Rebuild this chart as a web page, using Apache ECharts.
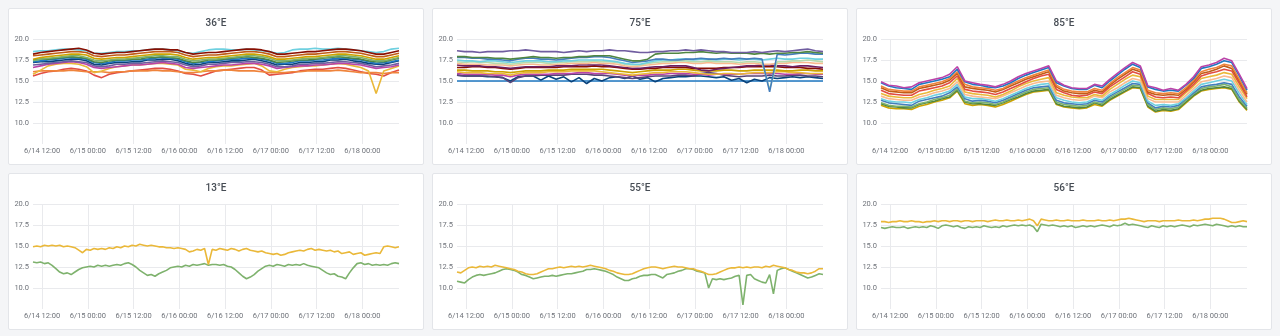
<!DOCTYPE html>
<html>
<head>
<meta charset="utf-8">
<script src="https://cdn.jsdelivr.net/npm/echarts@6/dist/echarts.min.js"></script>
<style>
  html, body { margin: 0; padding: 0; background: #f4f5f7; width: 1280px; height: 336px; overflow: hidden; }
  .panel { position: absolute; width: 416px; height: 157px; background: #fff; border: 1px solid #e3e5e9; border-radius: 2px; box-sizing: border-box; }
  .panel > div { width: 100%; height: 100%; }
</style>
</head>
<body>
<div class="panel" style="left:8px;top:8px"><div id="p0"></div></div>
<div class="panel" style="left:432px;top:8px"><div id="p1"></div></div>
<div class="panel" style="left:856px;top:8px"><div id="p2"></div></div>
<div class="panel" style="left:8px;top:173px"><div id="p3"></div></div>
<div class="panel" style="left:432px;top:173px"><div id="p4"></div></div>
<div class="panel" style="left:856px;top:173px"><div id="p5"></div></div>
<script>
// Sensor temperatures over 4 days. The x axis is in minutes since 6/14 00:00;
// the window opens at 6/14 09:36 (576 min). Top row: one sample every 2 hours;
// bottom row: one sample every hour.
const X_START = 576;            // 6/14 09:36
const X_SPAN = 96 * 60;         // 4 days
const X_STEP = 144;             // axis step in minutes (five steps per 12 h)
const Y_TICKS = [10, 12.5, 15, 17.5, 20];

// ---- 36°E (2 h step) ----
const e36_cyan = [18.5,18.6,18.6,18.7,18.8,18.8,18.7,18.6,18.3,18.3,18.4,18.5,18.5,18.6,18.6,18.7,18.8,18.8,18.7,18.6,18.4,18.3,18.5,18.7,18.8,18.8,18.7,18.7,18.8,18.7,18.6,18.5,18.3,18.4,18.7,18.8,18.8,18.9,18.8,18.8,18.9,18.8,18.7,18.6,18.5,18.4,18.5,18.8,18.9];
const e36_darkred = [18.2,18.4,18.5,18.6,18.7,18.8,18.9,18.7,18.3,18.2,18.3,18.4,18.4,18.5,18.6,18.7,18.8,18.8,18.7,18.7,18.4,18.2,18.3,18.4,18.4,18.5,18.6,18.7,18.8,18.8,18.7,18.5,18.2,18.2,18.3,18.4,18.5,18.5,18.6,18.7,18.8,18.8,18.7,18.6,18.4,18.2,18.2,18.4,18.6];
const e36_rust = [18.0,18.1,18.2,18.3,18.4,18.5,18.5,18.4,18.0,17.9,18.0,18.1,18.1,18.2,18.3,18.4,18.5,18.5,18.5,18.4,18.1,17.9,18.0,18.1,18.1,18.2,18.3,18.4,18.5,18.5,18.4,18.2,17.9,17.9,18.0,18.1,18.2,18.2,18.3,18.4,18.5,18.5,18.4,18.3,18.1,17.9,17.9,18.1,18.3];
const e36_olive = [17.6,17.8,17.9,18.0,18.1,18.2,18.2,18.1,17.7,17.6,17.7,17.8,17.8,17.9,18.0,18.1,18.2,18.2,18.2,18.1,17.8,17.6,17.7,17.8,17.8,17.9,18.0,18.1,18.2,18.2,18.1,17.9,17.6,17.6,17.7,17.8,17.9,17.9,18.0,18.1,18.2,18.2,18.1,18.0,17.8,17.6,17.6,17.8,18.0];
const e36_green = [17.4,17.6,17.7,17.8,17.9,18.0,18.0,17.8,17.5,17.4,17.5,17.6,17.6,17.7,17.8,17.9,18.0,18.0,17.9,17.9,17.6,17.4,17.5,17.6,17.6,17.7,17.8,17.9,18.0,18.0,17.9,17.7,17.4,17.4,17.5,17.6,17.7,17.7,17.8,17.9,18.0,18.0,17.9,17.8,17.6,17.4,17.4,17.6,17.8];
const e36_darkgreen = [17.5,17.6,17.6,17.7,17.8,17.9,17.8,17.7,17.3,17.2,17.4,17.5,17.5,17.6,17.6,17.8,17.8,17.9,17.8,17.7,17.4,17.2,17.3,17.5,17.5,17.6,17.7,17.8,17.9,17.8,17.7,17.5,17.2,17.3,17.4,17.5,17.5,17.6,17.7,17.8,17.9,17.8,17.7,17.6,17.4,17.3,17.3,17.5,17.7];
const e36_blue = [17.3,17.4,17.5,17.6,17.7,17.8,17.7,17.6,17.2,17.1,17.2,17.4,17.4,17.5,17.5,17.6,17.7,17.8,17.7,17.6,17.3,17.1,17.2,17.3,17.4,17.5,17.6,17.6,17.7,17.7,17.6,17.4,17.1,17.1,17.2,17.4,17.4,17.5,17.5,17.6,17.7,17.7,17.6,17.5,17.3,17.1,17.2,17.3,17.5];
const e36_navy = [17.2,17.3,17.3,17.4,17.5,17.6,17.6,17.4,17.0,16.9,17.1,17.2,17.2,17.3,17.3,17.5,17.5,17.6,17.6,17.4,17.1,16.9,17.0,17.2,17.2,17.3,17.4,17.4,17.5,17.6,17.4,17.2,16.9,17.0,17.0,17.2,17.2,17.3,17.3,17.5,17.5,17.6,17.4,17.3,17.1,17.0,17.0,17.2,17.4];
const e36_violet = [16.9,17.0,17.1,17.2,17.3,17.4,17.3,17.2,16.8,16.7,16.8,17.0,17.0,17.1,17.1,17.2,17.3,17.4,17.3,17.2,16.9,16.7,16.8,17.0,17.0,17.1,17.2,17.2,17.3,17.3,17.2,17.0,16.7,16.7,16.8,17.0,17.0,17.1,17.1,17.2,17.3,17.3,17.2,17.1,16.9,16.7,16.8,16.9,17.1];
const e36_magenta = [16.6,16.8,17.0,17.1,17.2,17.3,17.2,17.0,16.6,16.5,16.6,16.7,16.8,16.9,16.9,17.0,17.1,17.2,17.1,17.0,16.6,16.5,16.6,16.7,16.8,16.9,16.9,17.0,17.1,17.1,17.0,16.8,16.5,16.6,16.7,16.8,16.8,16.9,16.9,17.0,17.1,17.1,17.0,16.9,16.7,16.5,16.6,16.7,16.9];
const e36_yellow = [15.8,16.3,16.8,17.0,17.1,17.1,17.0,16.7,16.0,16.2,16.5,16.7,16.8,16.9,16.9,17.0,17.1,17.1,17.0,16.9,16.4,16.3,16.1,16.5,16.7,16.8,16.8,16.9,17.0,17.1,16.8,16.2,16.1,16.4,16.6,16.7,16.8,16.8,16.9,17.0,17.1,17.0,16.8,16.6,16.2,13.5,16.2,16.5,16.8];
const e36_red = [15.6,15.9,16.1,16.2,16.4,16.5,16.4,16.2,15.7,15.4,15.8,16.0,16.1,16.2,16.3,16.4,16.5,16.5,16.4,16.2,15.9,15.8,15.6,15.9,16.2,16.3,16.4,16.5,16.6,16.6,16.3,15.7,15.8,15.9,16.0,16.2,16.3,16.4,16.4,16.5,16.6,16.5,16.3,16.1,15.9,15.8,15.6,16.0,16.3];
const e36_orange = [16.1,16.2,16.2,16.2,16.2,16.3,16.2,16.1,16.1,16.1,16.0,16.1,16.1,16.2,16.2,16.2,16.3,16.2,16.2,16.1,16.0,16.0,16.1,16.2,16.2,16.3,16.3,16.2,16.2,16.2,16.1,16.0,16.0,16.0,16.1,16.1,16.2,16.2,16.2,16.2,16.3,16.2,16.1,16.0,16.0,16.0,15.9,16.0,16.0];

// ---- 75°E (2 h step) ----
const e75_violet = [18.6,18.5,18.5,18.4,18.5,18.5,18.5,18.6,18.6,18.7,18.6,18.5,18.5,18.5,18.4,18.5,18.6,18.5,18.6,18.6,18.7,18.6,18.6,18.5,18.4,18.4,18.5,18.5,18.6,18.6,18.7,18.6,18.7,18.6,18.5,18.5,18.4,18.4,18.4,18.5,18.4,18.5,18.6,18.5,18.6,18.7,18.8,18.6,18.5];
const e75_darkgreen = [17.9,17.9,17.8,17.8,17.8,17.7,17.7,17.6,17.7,17.8,17.9,17.8,17.8,17.7,17.8,17.8,17.9,17.9,18.0,18.0,18.0,17.8,17.6,17.4,17.4,17.6,18.2,18.3,18.3,18.3,18.4,18.4,18.5,18.4,18.3,18.4,18.3,18.3,18.3,18.2,18.3,18.2,18.3,18.3,18.4,18.4,18.5,18.4,18.3];
const e75_blue = [17.8,17.8,17.7,17.7,17.6,17.6,17.5,17.4,17.6,17.7,17.7,17.6,17.6,17.5,17.6,17.7,17.8,17.8,17.9,17.9,17.8,17.6,17.4,17.2,17.3,17.4,17.6,17.6,17.5,17.5,17.6,17.6,17.7,17.6,17.6,17.7,17.6,17.7,17.6,17.7,17.6,13.7,18.2,18.1,18.2,18.3,18.3,18.2,18.2];
const e75_cyan = [17.5,17.4,17.4,17.3,17.4,17.4,17.3,17.2,17.3,17.4,17.4,17.4,17.3,17.3,17.4,17.4,17.5,17.5,17.5,17.5,17.4,17.3,17.1,17.0,17.0,17.2,17.4,17.5,17.5,17.6,17.6,17.5,17.6,17.6,17.5,17.6,17.6,17.5,17.6,17.6,17.5,17.6,17.7,17.6,17.6,17.7,17.7,17.6,17.6];
const e75_lightgreen = [17.3,17.2,17.3,17.2,17.2,17.1,17.1,17.0,17.1,17.2,17.2,17.2,17.1,17.2,17.2,17.3,17.3,17.3,17.4,17.3,17.3,17.2,17.0,16.9,16.9,17.1,17.2,17.3,17.3,17.4,17.4,17.3,17.3,17.4,17.3,17.3,17.3,17.2,17.3,17.3,17.2,14.0,17.3,17.3,17.4,17.4,17.5,17.4,17.3];
const e75_orange = [17.1,17.0,17.0,17.0,16.9,16.9,16.9,16.8,16.9,17.0,17.0,16.9,16.9,17.0,17.0,17.1,17.1,17.1,17.2,17.1,17.1,17.0,16.8,16.7,16.8,16.9,17.0,17.1,17.1,17.2,17.2,17.1,17.1,17.2,17.1,17.1,17.1,17.0,17.1,17.1,17.0,17.0,17.1,17.1,17.2,17.2,17.2,17.1,17.1];
const e75_plum = [16.9,16.8,16.8,16.8,16.7,16.7,16.6,16.5,16.6,16.7,16.7,16.7,16.7,16.8,16.8,16.8,16.9,16.9,16.9,16.9,16.8,16.7,16.6,16.5,16.5,16.6,16.7,16.7,16.8,16.8,16.8,16.6,16.3,16.2,16.4,16.5,16.6,16.7,16.8,16.8,16.9,16.9,16.8,16.8,16.7,16.8,16.8,16.7,16.6];
const e75_darkred = [16.6,16.6,16.7,16.7,16.6,16.6,16.5,16.4,16.5,16.6,16.6,16.6,16.6,16.6,16.7,16.7,16.7,16.7,16.8,16.7,16.7,16.6,16.5,16.4,16.4,16.5,16.5,16.6,16.6,16.6,16.6,16.5,16.5,16.5,16.5,16.6,16.6,16.6,16.7,16.7,16.7,16.7,16.7,16.6,16.6,16.6,16.5,16.5,16.4];
const e75_olive = [16.3,16.3,16.2,16.2,16.2,16.1,16.1,16.0,16.1,16.2,16.2,16.2,16.3,16.3,16.3,16.4,16.4,16.4,16.4,16.4,16.3,16.2,16.1,16.0,16.1,16.2,16.3,16.3,16.3,16.4,16.4,16.3,16.2,16.2,16.2,16.3,16.3,16.2,16.2,16.3,16.3,16.3,16.3,16.2,16.2,16.3,16.3,16.2,16.2];
const e75_yellow = [16.1,16.0,16.0,16.0,15.9,15.9,15.9,15.7,15.9,16.0,16.0,16.0,16.1,16.1,16.1,16.2,16.2,16.2,16.2,16.1,16.0,15.9,15.8,15.7,15.8,15.9,16.0,16.0,16.1,16.1,16.1,16.0,15.9,15.8,15.8,15.9,15.9,15.8,15.9,16.0,16.0,16.0,16.1,16.1,16.0,16.0,15.9,15.9,15.9];
const e75_magenta = [15.9,15.8,15.8,15.8,15.8,15.7,15.7,15.5,15.7,15.8,15.8,15.8,15.8,15.9,15.9,15.9,16.0,16.0,15.9,15.9,15.9,15.8,15.7,15.6,15.7,15.7,15.8,15.8,15.9,15.9,15.9,15.8,15.8,15.7,15.8,15.8,15.8,15.8,15.9,15.9,15.9,15.9,15.9,15.8,15.8,15.9,15.9,15.8,15.8];
const e75_purple = [15.7,15.6,15.6,15.6,15.6,15.5,15.4,14.8,15.4,15.6,15.6,15.7,15.7,15.7,15.7,15.8,15.8,15.8,15.7,15.7,15.6,15.5,15.4,15.3,15.4,15.5,15.6,15.6,15.6,15.7,15.7,15.6,15.9,16.0,15.9,15.7,15.6,15.5,15.6,15.6,15.6,15.7,15.6,15.6,15.7,15.7,15.6,15.6,15.5];
const e75_navy = [15.7,15.6,15.6,15.6,15.5,15.5,15.4,15.0,15.5,15.6,15.6,15.1,15.6,15.2,15.5,14.9,15.4,14.7,15.3,15.0,15.4,15.5,15.3,15.6,15.2,15.4,14.9,15.3,15.4,15.5,15.5,15.6,15.6,15.5,15.4,15.5,15.1,15.3,14.8,15.2,15.0,15.4,15.3,15.4,15.5,15.4,15.5,15.4,15.3];
const e75_base = [15.0,15.0,15.0,15.0,15.0,15.0,15.0,15.0,15.0,15.0,15.0,15.0,15.0,15.0,15.0,15.0,15.0,15.0,15.0,15.0,15.0,15.0,15.0,15.0,15.0,15.0,15.0,15.0,15.0,15.0,15.0,15.0,15.0,15.0,15.0,15.0,15.0,15.0,15.0,15.0,15.0,15.0,15.0,15.0,15.0,15.0,15.0,15.0,15.0];

// ---- 85°E (2 h step) ----
const e85_magenta = [14.9,14.5,14.4,14.2,14.3,14.8,15.0,15.2,15.4,15.8,16.7,15.0,14.8,14.6,14.5,14.3,14.6,15.0,15.5,15.9,16.2,16.5,16.8,15.0,14.5,14.2,14.1,14.1,14.6,14.4,15.2,15.9,16.6,17.2,16.8,14.4,14.2,13.9,14.1,13.9,14.6,15.5,16.7,16.9,17.2,17.7,17.4,15.8,14.1];
const e85_blue = [14.8,14.4,14.2,14.1,14.0,14.6,14.8,15.0,15.2,15.5,16.4,14.9,14.6,14.5,14.3,14.2,14.4,14.8,15.3,15.7,16.0,16.3,16.6,14.8,14.4,14.1,14.0,14.0,14.5,14.2,15.0,15.7,16.4,17.0,16.6,14.3,14.0,13.8,13.9,13.8,14.5,15.3,16.5,16.7,17.0,17.4,17.2,15.6,13.9];
const e85_orange = [14.4,14.0,13.9,13.8,13.8,14.3,14.5,14.7,14.9,15.3,16.1,14.6,14.3,14.2,14.1,13.9,14.1,14.6,15.0,15.4,15.7,16.0,16.3,14.5,14.0,13.8,13.7,13.7,14.1,13.9,14.7,15.4,16.0,16.6,16.3,13.9,13.6,13.5,13.6,13.5,14.2,15.1,16.1,16.4,16.6,17.0,16.8,15.2,13.6];
const e85_rust = [14.2,13.8,13.7,13.6,13.6,14.1,14.3,14.5,14.7,15.1,15.9,14.3,14.1,14.0,13.9,13.7,14.0,14.4,14.8,15.2,15.5,15.8,16.1,14.3,13.8,13.6,13.5,13.5,13.9,13.7,14.5,15.2,15.8,16.4,16.1,13.7,13.4,13.3,13.4,13.3,14.0,14.9,15.9,16.1,16.4,16.8,16.5,15.0,13.4];
const e85_red = [13.9,13.5,13.4,13.3,13.3,13.8,14.0,14.2,14.4,14.8,15.6,14.0,13.8,13.7,13.6,13.4,13.7,14.1,14.5,14.9,15.3,15.6,15.8,14.0,13.6,13.3,13.2,13.3,13.7,13.5,14.3,14.9,15.5,16.1,15.8,13.5,13.1,13.0,13.1,13.0,13.8,14.6,15.6,15.9,16.1,16.4,16.2,14.7,13.1];
const e85_yellow = [13.5,13.2,13.1,13.0,13.0,13.4,13.6,13.9,14.1,14.4,15.3,13.7,13.5,13.4,13.3,13.1,13.4,13.8,14.3,14.7,15.0,15.2,15.4,13.6,13.3,13.1,13.0,13.0,13.4,13.2,14.0,14.6,15.2,15.7,15.5,13.2,12.8,12.8,12.8,12.8,13.6,14.4,15.3,15.5,15.7,16.0,15.8,14.3,12.9];
const e85_peach = [13.2,12.9,12.8,12.7,12.7,13.1,13.3,13.6,13.8,14.1,14.9,13.4,13.2,13.1,13.0,12.9,13.2,13.6,14.0,14.4,14.7,14.9,15.0,13.3,13.0,12.8,12.7,12.8,13.2,13.0,13.7,14.2,14.8,15.3,15.1,12.9,12.5,12.5,12.5,12.5,13.3,14.1,14.9,15.1,15.3,15.6,15.4,13.9,12.5];
const e85_cyan = [12.9,12.6,12.5,12.5,12.4,12.8,13.0,13.3,13.5,13.8,14.6,13.1,12.9,12.9,12.8,12.6,12.9,13.3,13.7,14.1,14.4,14.6,14.7,13.0,12.7,12.5,12.4,12.5,12.9,12.7,13.4,13.9,14.5,15.0,14.8,12.6,12.1,12.2,12.1,12.3,13.0,13.8,14.6,14.8,15.0,15.2,15.0,13.5,12.2];
const e85_steel = [12.7,12.4,12.3,12.2,12.1,12.6,12.8,13.0,13.2,13.6,14.3,12.9,12.6,12.7,12.6,12.4,12.7,13.1,13.5,13.9,14.2,14.3,14.4,12.7,12.4,12.3,12.2,12.3,12.7,12.5,13.2,13.7,14.2,14.7,14.6,12.4,11.8,12.0,11.9,12.1,12.9,13.6,14.3,14.5,14.6,14.8,14.6,13.1,12.0];
const e85_green = [12.4,12.1,12.0,12.0,11.9,12.3,12.5,12.8,13.0,13.3,14.1,12.6,12.4,12.5,12.4,12.2,12.5,12.9,13.3,13.7,14.0,14.1,14.2,12.5,12.2,12.1,12.0,12.1,12.5,12.3,13.0,13.5,14.0,14.5,14.4,12.2,11.6,11.8,11.7,11.9,12.7,13.5,14.1,14.3,14.4,14.6,14.3,12.8,11.8];
const e85_darkgreen = [12.3,12.0,11.9,11.8,11.8,12.2,12.4,12.6,12.9,13.1,13.9,12.5,12.3,12.3,12.2,12.1,12.4,12.8,13.1,13.5,13.8,13.9,14.0,12.3,12.0,11.9,11.8,11.9,12.4,12.1,12.8,13.3,13.8,14.3,14.2,12.0,11.4,11.6,11.5,11.7,12.5,13.3,13.9,14.1,14.2,14.3,14.1,12.6,11.6];
const e85_olive = [12.1,11.8,11.7,11.7,11.6,12.0,12.2,12.5,12.7,13.0,13.8,12.3,12.1,12.2,12.1,11.9,12.2,12.6,13.0,13.4,13.7,13.8,13.9,12.2,11.9,11.8,11.7,11.8,12.2,12.0,12.7,13.2,13.7,14.2,14.1,11.9,11.3,11.5,11.4,11.6,12.4,13.2,13.8,14.0,14.1,14.2,14.0,12.5,11.5];

// ---- 13°E (1 h step) ----
const e13_green = [13.1,13.0,13.1,12.9,13.0,12.7,12.3,11.9,11.7,11.8,11.6,11.9,12.2,12.4,12.5,12.6,12.5,12.7,12.6,12.7,12.6,12.7,12.8,12.7,12.9,13.0,12.8,12.5,12.1,11.8,11.5,11.6,11.4,11.7,11.9,12.1,12.4,12.5,12.6,12.5,12.7,12.6,12.8,12.7,12.8,12.9,12.7,12.8,12.8,12.7,12.8,12.6,12.5,12.2,11.8,11.4,11.1,11.3,11.6,12.0,12.3,12.6,12.7,12.6,12.8,12.7,12.6,12.8,12.7,12.8,12.7,12.9,12.7,12.6,12.5,12.4,12.1,11.8,11.6,11.7,11.4,11.3,11.1,11.8,12.4,12.9,13.0,12.8,12.9,12.7,12.8,12.7,12.8,12.7,12.9,13.0,12.9];
const e13_yellow = [14.9,15.0,14.9,15.1,15.0,15.1,15.0,15.1,14.9,15.0,14.9,14.8,14.5,14.2,14.6,14.5,14.7,14.6,14.7,14.6,14.8,14.7,14.9,14.8,15.0,14.9,15.1,15.0,15.2,15.1,15.0,15.1,15.0,14.9,14.9,14.8,14.8,14.7,14.8,14.7,14.6,14.3,14.4,14.6,14.5,14.7,12.8,14.6,14.5,14.7,14.6,14.5,14.7,14.6,14.4,14.6,14.7,14.5,14.4,14.3,14.4,14.2,14.1,14.0,14.1,13.9,14.0,14.2,14.3,14.4,14.5,14.4,14.6,14.7,14.5,14.6,14.5,14.4,14.5,14.3,14.4,14.1,14.2,14.3,14.0,14.1,14.2,13.9,14.0,14.1,14.2,14.1,14.9,15.0,14.9,14.8,14.9];

// ---- 55°E (1 h step) ----
const e55_green = [10.8,10.7,10.6,11.0,11.3,11.5,11.6,11.5,11.6,11.7,11.8,12.0,12.2,12.3,12.2,12.1,11.9,11.6,11.5,11.3,11.1,11.2,11.3,11.4,11.4,11.5,11.4,11.5,11.6,11.7,11.7,11.8,11.9,12.0,12.2,12.2,12.3,12.2,12.1,12.0,11.8,11.6,11.3,11.1,10.9,10.9,11.1,11.2,11.4,11.5,11.5,11.6,11.6,11.4,11.2,11.6,11.7,11.8,12.0,12.1,12.3,12.3,12.2,12.0,11.9,11.8,10.0,11.1,11.0,11.1,11.0,11.1,11.2,11.4,11.5,8.0,11.5,11.6,11.1,10.9,10.7,10.6,11.6,9.3,12.1,12.3,12.4,12.2,12.0,11.8,11.6,11.4,11.2,11.3,11.5,11.7,11.6];
const e55_yellow = [11.9,11.8,12.1,12.4,12.5,12.4,12.6,12.5,12.6,12.5,12.7,12.6,12.5,12.4,12.3,12.2,12.0,11.9,11.7,11.6,11.6,11.7,11.9,12.1,12.3,12.3,12.4,12.5,12.4,12.5,12.6,12.5,12.6,12.5,12.6,12.7,12.6,12.5,12.4,12.3,12.1,12.0,11.8,11.7,11.6,11.6,11.7,11.9,12.1,12.3,12.4,12.5,12.5,12.4,12.3,12.4,12.5,12.6,12.5,12.5,12.4,12.3,12.3,12.1,12.0,11.8,11.6,11.6,11.7,11.9,12.1,12.3,12.4,12.4,12.5,12.4,12.5,12.4,12.5,12.5,12.4,12.6,12.5,12.7,12.6,12.5,12.4,12.2,12.1,11.9,11.8,11.8,11.7,11.8,12.0,12.3,12.3];

// ---- 56°E (1 h step) ----
const e56_green = [17.2,17.1,17.2,17.3,17.2,17.2,17.3,17.1,17.2,17.3,17.2,17.3,17.2,17.4,17.3,17.1,17.4,17.5,17.4,17.3,17.4,17.2,17.1,17.3,17.2,17.3,17.2,17.4,17.3,17.2,17.3,17.2,17.4,17.3,17.4,17.5,17.4,17.5,17.4,17.5,17.3,16.7,17.6,17.5,17.4,17.5,17.4,17.3,17.4,17.3,17.4,17.2,17.3,17.4,17.3,17.4,17.3,17.4,17.5,17.4,17.3,17.5,17.4,17.5,17.7,17.5,17.6,17.5,17.4,17.3,17.2,17.4,17.3,17.2,17.4,17.3,17.4,17.3,17.4,17.5,17.4,17.3,17.5,17.4,17.5,17.6,17.5,17.4,17.6,17.5,17.4,17.3,17.4,17.3,17.4,17.3,17.3];
const e56_yellow = [17.9,17.9,17.8,17.9,17.9,18.0,17.9,17.9,18.0,17.9,17.9,17.8,17.9,17.9,18.0,17.9,18.0,18.0,17.9,18.0,18.0,17.9,18.0,18.0,17.9,18.0,18.0,18.0,17.9,18.0,18.1,18.0,18.0,18.1,18.0,18.0,18.1,18.0,18.1,18.2,18.0,17.4,18.2,18.1,18.0,18.0,18.1,18.0,18.0,18.1,18.0,18.0,18.0,18.1,18.0,18.0,18.0,18.1,18.0,18.0,18.1,18.0,18.1,18.2,18.2,18.3,18.2,18.1,18.0,17.9,18.0,18.0,18.0,17.9,18.0,18.0,18.0,18.0,18.1,18.0,18.0,18.0,18.1,18.0,18.1,18.2,18.2,18.3,18.3,18.3,18.2,18.0,17.8,17.8,17.9,18.0,17.9];

const PANELS = [
  { id: 'p0', title: '36°E', step: 2, lines: [
    ['#E24D42', e36_red], ['#EF843C', e36_orange], ['#EAB839', e36_yellow], ['#BA43A9', e36_magenta],
    ['#705DA0', e36_violet], ['#0A437C', e36_navy], ['#1F78C1', e36_blue], ['#508642', e36_darkgreen],
    ['#7EB26D', e36_green], ['#CCA300', e36_olive], ['#C15C17', e36_rust], ['#6ED0E0', e36_cyan],
    ['#890F02', e36_darkred] ] },
  { id: 'p1', title: '75°E', step: 2, lines: [
    ['#1F78C1', e75_base], ['#0A437C', e75_navy], ['#584477', e75_purple], ['#BA43A9', e75_magenta],
    ['#EAB839', e75_yellow], ['#CCA300', e75_olive], ['#890F02', e75_darkred], ['#6D1F62', e75_plum],
    ['#F9BA8F', e75_orange], ['#B7DBAB', e75_lightgreen], ['#6ED0E0', e75_cyan], ['#447EBC', e75_blue],
    ['#508642', e75_darkgreen], ['#705DA0', e75_violet] ] },
  { id: 'p2', title: '85°E', step: 2, lines: [
    ['#CCA300', e85_olive], ['#508642', e85_darkgreen], ['#7EB26D', e85_green], ['#447EBC', e85_steel],
    ['#6ED0E0', e85_cyan], ['#F9BA8F', e85_peach], ['#EAB839', e85_yellow], ['#E24D42', e85_red],
    ['#C15C17', e85_rust], ['#EF843C', e85_orange], ['#1F78C1', e85_blue], ['#BA43A9', e85_magenta] ] },
  { id: 'p3', title: '13°E', step: 1, lines: [['#7EB26D', e13_green], ['#EAB839', e13_yellow]] },
  { id: 'p4', title: '55°E', step: 1, lines: [['#7EB26D', e55_green], ['#EAB839', e55_yellow]] },
  { id: 'p5', title: '56°E', step: 1, lines: [['#7EB26D', e56_green], ['#EAB839', e56_yellow]] }
];

const pad = n => (n < 10 ? '0' : '') + n;
// minutes since 6/14 00:00 -> "6/15 00:00"; only 00:00 and 12:00 get a label
const fmtMinutes = v => {
  const m = Math.round(v);
  if (m % 720 !== 0) return '';
  const day = 14 + Math.floor(m / 1440);
  const hh = Math.floor((m % 1440) / 60);
  return '6/' + day + ' ' + pad(hh) + ':00';
};
// grid lines only at the 12-hour marks (every fifth step, starting one step after the left edge)
const GRID = '#e9eaed', NONE = 'rgba(0,0,0,0)';

PANELS.forEach(p => {
  const chart = echarts.init(document.getElementById(p.id), null, { renderer: 'canvas' });
  chart.setOption({
    animation: false,
    textStyle: { fontFamily: 'Roboto, "Open Sans", sans-serif' },
    title: {
      text: p.title, left: 'center', top: 4,
      textStyle: { fontSize: 10, fontWeight: 500, color: '#464c54', fontFamily: 'Roboto, sans-serif' }
    },
    grid: { left: 24, right: 24, top: 30, bottom: 20 },
    xAxis: {
      type: 'value', min: X_START, max: X_START + X_SPAN, interval: X_STEP,
      axisLine: { show: false }, axisTick: { show: false },
      axisLabel: { fontSize: 7.5, color: '#6f737a', margin: 3, formatter: fmtMinutes },
      splitLine: { show: true, lineStyle: { color: [NONE, GRID, NONE, NONE, NONE], width: 1 } }
    },
    yAxis: {
      type: 'value', min: 7.5, max: 20, interval: 2.5,
      axisLine: { show: false }, axisTick: { show: false },
      axisLabel: {
        fontSize: 7.5, color: '#6f737a', margin: 4,
        formatter: v => (Y_TICKS.indexOf(v) >= 0 ? v.toFixed(1) : '')
      },
      splitLine: { show: true, lineStyle: { color: [NONE, GRID, GRID, GRID, GRID, GRID], width: 1 } }
    },
    series: p.lines.map(([color, vals]) => ({
      type: 'line', showSymbol: false, symbol: 'none', silent: true,
      lineStyle: { color, width: 1.6 },
      itemStyle: { color },
      data: vals.map((v, i) => [X_START + i * p.step * 60, v])
    }))
  });
});
</script>
</body>
</html>
